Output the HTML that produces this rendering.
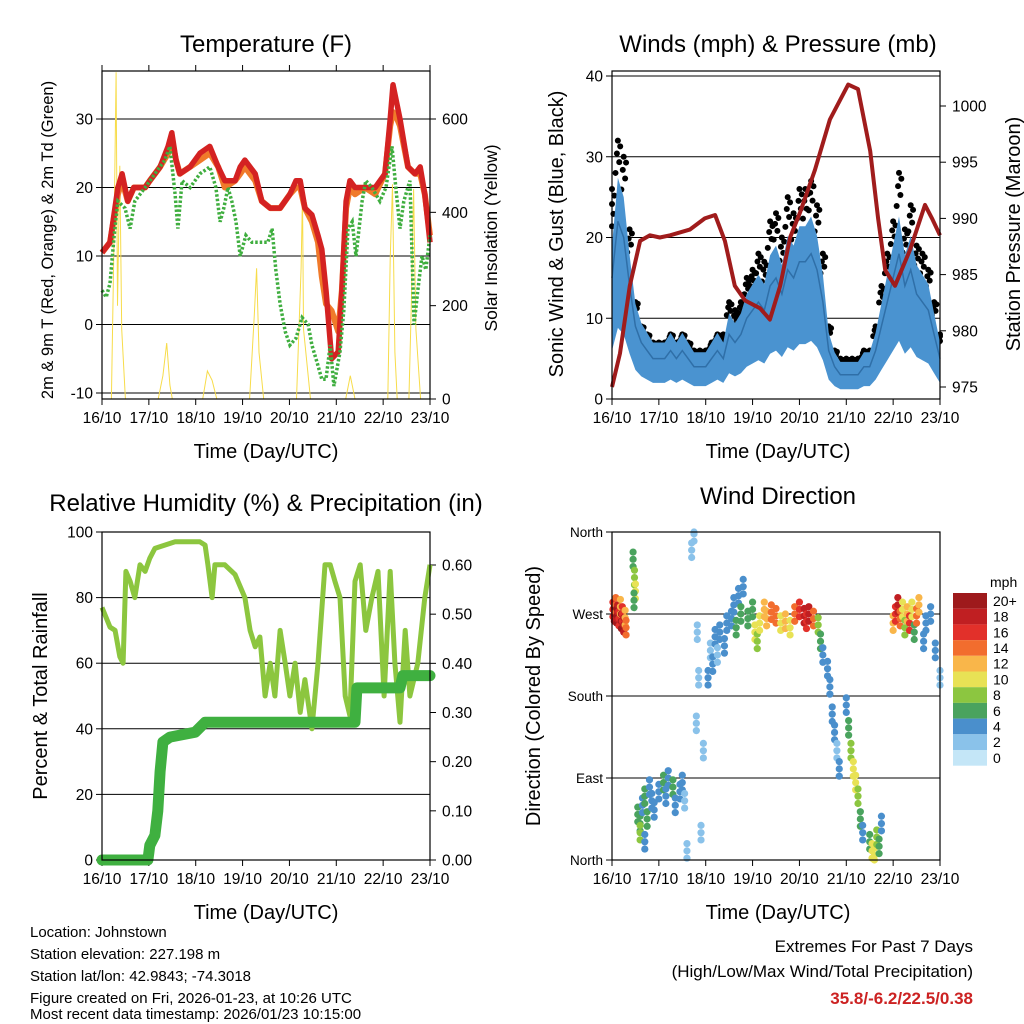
<!DOCTYPE html>
<html><head><meta charset="utf-8"><style>
html,body{margin:0;padding:0;background:#fff;width:1024px;height:1024px;overflow:hidden}
svg{display:block;font-family:"Liberation Sans",sans-serif}
</style></head><body>
<svg id="s" width="1024" height="1024" viewBox="0 0 1024 1024" xmlns="http://www.w3.org/2000/svg">
<g id="layer"></g>
<text x="266" y="52" font-size="24" text-anchor="middle">Temperature (F)</text>
<text x="778" y="52" font-size="24" text-anchor="middle">Winds (mph) &amp; Pressure (mb)</text>
<text x="266" y="511" font-size="24" text-anchor="middle">Relative Humidity (%) &amp; Precipitation (in)</text>
<text x="778" y="504" font-size="24" text-anchor="middle">Wind Direction</text>
<text x="266" y="458" font-size="20" text-anchor="middle">Time (Day/UTC)</text>
<text x="778" y="458" font-size="20" text-anchor="middle">Time (Day/UTC)</text>
<text x="266" y="919" font-size="20" text-anchor="middle">Time (Day/UTC)</text>
<text x="778" y="919" font-size="20" text-anchor="middle">Time (Day/UTC)</text>
<text transform="translate(53,240) rotate(-90)" font-size="16.5" text-anchor="middle">2m &amp; 9m T (Red, Orange) &amp; 2m Td (Green)</text>
<text transform="translate(497,238) rotate(-90)" font-size="17.5" text-anchor="middle">Solar Insolation (Yellow)</text>
<text transform="translate(563,234) rotate(-90)" font-size="20" text-anchor="middle">Sonic Wind &amp; Gust (Blue, Black)</text>
<text transform="translate(1020,234) rotate(-90)" font-size="20" text-anchor="middle">Station Pressure (Maroon)</text>
<text transform="translate(47,696) rotate(-90)" font-size="20" text-anchor="middle">Percent &amp; Total Rainfall</text>
<text transform="translate(540,696) rotate(-90)" font-size="20" text-anchor="middle">Direction (Colored By Speed)</text>
<g font-size="15">
<text x="30" y="937">Location: Johnstown</text>
<text x="30" y="959">Station elevation: 227.198 m</text>
<text x="30" y="981">Station lat/lon: 42.9843; -74.3018</text>
<text x="30" y="1003">Figure created on Fri, 2026-01-23, at 10:26 UTC</text>
<text x="30" y="1019">Most recent data timestamp: 2026/01/23 10:15:00</text>
</g>
<g text-anchor="end">
<text x="973" y="952" font-size="17">Extremes For Past 7 Days</text>
<text x="973" y="977" font-size="17">(High/Low/Max Wind/Total Precipitation)</text>
<text x="973" y="1004" font-size="17" font-weight="bold" fill="#cc2222">35.8/-6.2/22.5/0.38</text>
</g>
<text x="990" y="587" font-size="14">mph</text>
</svg>
<script>
// ---- Temperature data ----
const tTime=[16.00,16.17,16.34,16.43,16.55,16.68,16.92,17.02,17.24,17.41,17.49,17.58,17.66,17.88,18.09,18.30,18.48,18.62,18.84,18.95,19.05,19.27,19.41,19.59,19.80,20.01,20.14,20.23,20.33,20.48,20.61,20.69,20.78,20.90,21.04,21.12,21.21,21.29,21.40,21.61,21.83,22.04,22.15,22.21,22.30,22.36,22.53,22.68,22.79,22.89,23.00];
const tempRed=[10.5,12,20,22,18,20,20,21,23,26,28,24,22,23,25,26,23,21,21,23,24,22,18,17,17,19,21,21,17,16,13,11,5,-5,-4,5,18,21,20,20,20,22,30,35,32,30,23,22,23,19,12];
const tempOrange=[10.5,12,19,21,18,20,20,21,23,25,27,24,22,23,24,25,23,20,21,22,23,21,18,17,17,19,20,20,17,15,12,7,3,2,-1,5,17,20,19,20,19,22,29,31,30,29,23,22,22,19,13];
const tdTime=[16.00,16.09,16.17,16.26,16.34,16.49,16.60,16.70,16.92,17.13,17.34,17.45,17.56,17.62,17.71,17.88,18.09,18.30,18.43,18.52,18.60,18.69,18.77,18.86,18.95,19.07,19.20,19.41,19.54,19.63,19.71,19.80,19.91,20.01,20.14,20.27,20.40,20.48,20.61,20.69,20.78,20.87,20.95,21.08,21.16,21.25,21.34,21.42,21.55,21.63,21.76,21.93,22.06,22.19,22.27,22.36,22.44,22.57,22.66,22.74,22.83,22.91,23.00];
const tempDew=[5,4,6,13,18,17,14,18,20,22,24,26,19,14,21,20,22,23,20,15,17,20,18,15,10,13,12,12,12,14,8,3,-1,-3,-2,1,0,-3,-6,-8,-8,-3,-9,-4,2,14,15,10,18,21,20,18,20,26,20,14,18,21,0,5,10,8,13];
const solarTime=[16.0,16.2,16.25,16.3,16.33,16.38,16.42,16.5,17.2,17.3,17.38,17.45,17.5,18.15,18.25,18.35,18.45,19.15,19.25,19.3,19.35,19.45,20.15,20.25,20.28,20.3,20.45,21.2,21.3,21.4,22.1,22.15,22.2,22.25,22.3,22.55,22.6,22.65,22.7,22.8,23.0];
const solarVal=[0,0,300,700,200,500,150,0,0,50,120,30,0,0,60,40,0,0,180,280,100,0,0,280,440,150,0,0,50,0,0,300,460,100,0,0,200,450,150,0,0];
const tempTicks=[-10,0,10,20,30];
const solarTicks=[0,200,400,600];
const dayLabels=["16/10","17/10","18/10","19/10","20/10","21/10","22/10","23/10"];
// ---- Winds data (3-hourly) ----
const windTime=[16.000,16.125,16.25,16.375,16.5,16.625,16.75,16.875,17.0,17.125,17.25,17.375,17.5,17.625,17.75,17.875,18.0,18.125,18.25,18.375,18.5,18.625,18.75,18.875,19.0,19.125,19.25,19.375,19.5,19.625,19.75,19.875,20.0,20.125,20.25,20.375,20.5,20.625,20.75,20.875,21.0,21.125,21.25,21.375,21.5,21.625,21.75,21.875,22.0,22.125,22.25,22.375,22.5,22.625,22.75,22.875,23.0];
const windSpeed=[15,22,20,14,9,7,6,5,5,5,6,5,6,5,4,4,4,5,6,5,8,7,8,10,11,12,11,14,15,13,16,15,17,17,18,16,12,6,4,3,3,3,3,4,4,6,9,12,15,18,14,16,13,12,11,8,5];
const windGust=[26,32,30,21,12,9,8,7,7,7,8,7,8,7,6,6,6,7,8,8,12,11,12,15,16,18,17,22,23,20,25,23,26,26,27,24,18,9,6,5,5,5,5,6,6,9,14,18,22,28,21,24,19,18,16,12,8];
const presTime=[16.00,16.17,16.38,16.60,16.81,17.02,17.24,17.66,17.98,18.20,18.41,18.62,18.84,19.16,19.37,19.59,19.80,20.01,20.33,20.65,21.04,21.25,21.51,21.68,21.83,22.04,22.36,22.68,22.83,23.00];
const presVal=[975,978,984,988,988.5,988.3,988.5,989,990,990.3,988,984,982.7,982,981,984,988.3,990.5,994.3,998.8,1001.9,1001.5,996,990,985.4,984,987.2,991.2,990,988.5];
const windTicks=[0,10,20,30,40];
const presTicks=[975,980,985,990,995,1000];
// ---- RH / precip ----
const rhTime=[16.00,16.17,16.28,16.38,16.45,16.51,16.60,16.70,16.81,16.92,17.02,17.13,17.34,17.56,18.09,18.20,18.26,18.35,18.41,18.62,18.84,19.05,19.16,19.27,19.37,19.48,19.59,19.69,19.80,19.91,20.01,20.12,20.23,20.33,20.48,20.61,20.76,20.87,20.97,21.08,21.19,21.29,21.40,21.51,21.63,21.76,21.89,22.02,22.15,22.25,22.36,22.47,22.57,22.74,22.89,23.00];
const rhVal=[77,71,70,62,60,88,85,80,90,88,92,95,96,97,97,96,90,80,90,90,87,80,70,65,68,50,60,50,70,60,50,60,45,55,40,60,90,90,85,80,50,44,85,90,70,80,88,50,88,60,42,70,50,60,80,90];
const rainTime=[16.00,16.98,17.02,17.13,17.19,17.24,17.30,17.45,17.99,18.20,21.40,21.44,22.36,22.42,23.00];
const rainVal=[0,0,0.03,0.05,0.1,0.18,0.24,0.25,0.26,0.28,0.28,0.35,0.35,0.375,0.375];
const rhTicks=[0,20,40,60,80,100];
const rainTicks=[0,0.1,0.2,0.3,0.4,0.5,0.6];
// ---- Wind direction ----
const dirTime=[16.02,16.05,16.08,16.1,16.12,16.15,16.18,16.2,16.22,16.25,16.28,16.3,16.45,16.48,16.5,16.47,16.55,16.6,16.6,16.65,16.7,16.7,16.75,16.8,16.85,16.9,17.0,17.1,17.15,17.2,17.3,17.35,17.45,17.5,17.55,17.6,17.7,17.75,17.8,17.82,17.85,17.9,17.95,18.05,18.1,18.15,18.2,18.25,18.3,18.4,18.45,18.55,18.6,18.65,18.7,18.75,18.8,18.9,19.0,19.05,19.1,19.15,19.25,19.3,19.4,19.5,19.6,19.7,19.8,19.9,20.0,20.1,20.15,20.2,20.3,20.4,20.45,20.5,20.6,20.65,20.7,20.75,20.8,20.85,21.0,21.05,21.1,21.15,21.2,21.25,21.3,21.35,21.5,21.55,21.6,21.65,21.7,21.75,22.0,22.05,22.1,22.15,22.2,22.25,22.3,22.35,22.4,22.45,22.5,22.55,22.65,22.7,22.8,22.9,23.0];
const dirDeg=[275,270,280,268,272,265,278,262,270,258,266,255,330,310,295,285,50,40,30,60,20,70,45,80,65,55,75,85,70,90,80,60,75,85,65,10,340,358,150,250,200,30,120,200,230,215,245,225,250,235,260,265,280,255,290,270,300,265,275,250,240,260,275,265,272,268,260,262,255,270,275,268,262,270,265,258,240,225,210,190,160,140,120,100,170,145,120,100,85,70,45,30,20,10,5,25,15,40,260,270,280,265,275,255,270,260,275,250,268,280,240,260,270,230,200];
const dirSpeed=[16,18,14,20,17,16,12,19,15,18,12,14,5,7,9,6,6,5,7,4,3,5,6,4,3,4,4,5,3,4,5,3,4,3,2,2,1,2,2,1,2,1,2,3,2,3,3,2,3,3,4,4,3,5,4,5,3,5,6,9,7,10,12,11,14,13,10,12,9,14,15,18,16,17,14,8,5,4,3,3,4,3,2,3,4,5,8,9,10,8,6,4,6,9,10,8,5,4,12,16,18,14,10,8,12,16,9,6,14,12,4,3,4,3,2];
const dirLabels=["North","East","South","West","North"];
const speedBins=["0","2","4","6","8","10","12","14","16","18","20+"];
const binColors=["#c4e6f7","#8ac2ea","#4a8fcc","#4aa35e","#8cc640","#e8e255","#f9b64a","#f26d2e","#e2302a","#c01f22","#9e1a1c"];

const NS="http://www.w3.org/2000/svg";
const L=document.getElementById('layer');
function mk(tag,attrs,parent){const e=document.createElementNS(NS,tag);for(const k in attrs)e.setAttribute(k,attrs[k]);(parent||L).appendChild(e);return e;}
function lin(d0,d1,r0,r1){return v=>r0+(v-d0)*(r1-r0)/(d1-d0);}
function path(xs,ys,sx,sy){return xs.map((t,i)=>(i?'L':'M')+sx(t).toFixed(1)+','+sy(ys[i]).toFixed(1)).join('');}

function frame(x0,y0,x1,y1,name,showTop){
  const g=mk('g',{});
  
  
  const sx=lin(16,23,x0,x1);
  dayLabels.forEach((lab,i)=>{
    const x=sx(16+i);
    mk('line',{x1:x,y1:y1,x2:x,y2:y1+6,stroke:'#000','stroke-width':1},g);
    if(showTop) mk('line',{x1:x,y1:y0,x2:x,y2:y0-6,stroke:'#000','stroke-width':1},g);
    const t=mk('text',{x:x,y:y1+24,'font-size':15.5,'text-anchor':'middle'},g);t.textContent=lab;
    
    
  });
  return {g,sx};
}
function yAxis(g,vals,sy,x,side,fmt,grid,x0,x1){
  vals.forEach(v=>{
    const y=sy(v);
    if(grid) mk('line',{x1:x0,y1:y,x2:x1,y2:y,stroke:'#000','stroke-width':1},g);
    mk('line',{x1:x,y1:y,x2:x+(side<0?-6:6),y2:y,stroke:'#000','stroke-width':1},g);
    const t=mk('text',{x:x+(side<0?-9:12),y:y+5.5,'font-size':15.5,'text-anchor':side<0?'end':'start'},g);
    t.textContent=fmt(v);
    
    
  });
}
function border(g,x0,y0,x1,y1){mk('rect',{x:x0,y:y0,width:x1-x0,height:y1-y0,fill:'none',stroke:'#000','stroke-width':1.2},g);}

// ---- Panel 1 ----
(function(){
  const x0=102,y0=71,x1=430,y1=399;
  const {g,sx}=frame(x0,y0,x1,y1,'temperature-panel',true);
  const sy=lin(-10,30,393,119), ss=lin(0,600,399,119);
  yAxis(g,tempTicks,sy,x0,-1,v=>v,true,x0,x1);
  yAxis(g,solarTicks,ss,x1,1,v=>v,false);
  const s=mk('path',{d:path(solarTime,solarVal,sx,ss),fill:'none',stroke:'#f7dc4a','stroke-width':1},g);
  
  
  const o=mk('path',{d:path(tTime,tempOrange,sx,sy),fill:'none',stroke:'#f07a2a','stroke-width':6,'stroke-linejoin':'round'},g);
  
  
  const r=mk('path',{d:path(tTime,tempRed,sx,sy),fill:'none',stroke:'#d42222','stroke-width':5.5,'stroke-linejoin':'round'},g);
  
  
  const d=mk('path',{d:path(tdTime,tempDew,sx,sy),fill:'none',stroke:'#3fae3f','stroke-width':3.5,'stroke-dasharray':'2.5,2'},g);
  
  
  border(g,x0,y0,x1,y1);
})();

// ---- Panel 2 ----
(function(){
  const x0=612,y0=71,x1=940,y1=399;
  const {g,sx}=frame(x0,y0,x1,y1,'winds-panel',false);
  const sy=lin(0,40,399,76), sp=lin(975,1000,387,106);
  yAxis(g,windTicks,sy,x0,-1,v=>v,true,x0,x1);
  yAxis(g,presTicks,sp,x1,1,v=>v,false);
  // black gust dots: scattered between wind and gust for each record
  const fr=[0.55,0.7,0.82,0.92,1.0];
  const offs=[-0.05,0.03,-0.02,0.05,0.0];
  windTime.forEach((t,i)=>{
    const lo=windSpeed[i]*1.05, hi=windGust[i];
    fr.forEach((f,j)=>{
      const c=mk('circle',{cx:sx(Math.min(23,Math.max(16,t+offs[j]))),cy:sy(lo+(hi-lo)*f),r:3,fill:'#000'},g);
      
      
    });
  });
  // blue band polygon
  const up=windTime.map((t,i)=>sx(t).toFixed(1)+','+sy(windSpeed[i]*1.2+1).toFixed(1));
  const dn=windTime.map((t,i)=>sx(t).toFixed(1)+','+sy(Math.max(windSpeed[i]*0.4,0.3)).toFixed(1)).reverse();
  const band=mk('polygon',{points:up.concat(dn).join(' '),fill:'#4a93d0'},g);
  
  
  const w=mk('path',{d:path(windTime,windSpeed,sx,sy),fill:'none',stroke:'#2f6fa8','stroke-width':1.5},g);
  
  
  const p=mk('path',{d:path(presTime,presVal,sx,sp),fill:'none',stroke:'#a01c1c','stroke-width':4,'stroke-linejoin':'round'},g);
  
  
  border(g,x0,y0,x1,y1);
})();

// ---- Panel 3 ----
(function(){
  const x0=102,y0=532,x1=430,y1=860;
  const {g,sx}=frame(x0,y0,x1,y1,'humidity-panel',false);
  const sy=lin(0,100,860,532), sr=lin(0,0.6,860,565);
  yAxis(g,rhTicks,sy,x0,-1,v=>v,true,x0,x1);
  yAxis(g,rainTicks,sr,x1,1,v=>v.toFixed(2),false);
  const r=mk('path',{d:path(rhTime,rhVal,sx,sy),fill:'none',stroke:'#8cc63f','stroke-width':5,'stroke-linejoin':'round'},g);
  
  
  const p=mk('path',{d:path(rainTime,rainVal,sx,sr),fill:'none',stroke:'#3fb040','stroke-width':11,'stroke-linejoin':'round','stroke-linecap':'round'},g);
  
  
  border(g,x0,y0,x1,y1);
})();

// ---- Panel 4 ----
(function(){
  const x0=612,y0=532,x1=940,y1=860;
  const {g,sx}=frame(x0,y0,x1,y1,'wind-direction-panel',false);
  const sy=lin(0,360,860,532);
  dirLabels.forEach((lab,i)=>{
    const y=sy(i*90);
    if(i>0&&i<4) mk('line',{x1:x0,y1:y,x2:x1,y2:y,stroke:'#000','stroke-width':1},g);
    mk('line',{x1:x0,y1:y,x2:x0-6,y2:y,stroke:'#000'},g);
    const t=mk('text',{x:x0-9,y:y+5,'font-size':13.5,'text-anchor':'end'},g);t.textContent=lab;
    
    
  });
  function bin(s){return s<1?0:s<3?1:s<5?2:s<7?3:s<9?4:s<11?5:s<13?6:s<15?7:s<17?8:s<19?9:10;}
  dirTime.forEach((t,i)=>{
    [-8,0,8].forEach(dd=>{
      const c=mk('circle',{cx:sx(t),cy:sy(Math.max(0,Math.min(360,dirDeg[i]+dd))),r:3.6,fill:binColors[bin(dirSpeed[i])]},g);
      
      
    });
  });
  border(g,x0,y0,x1,y1);
  const cb=mk('g',{});
  
  
  const bh=15.7, top=593;
  speedBins.forEach((lab,i)=>{
    const k=speedBins.length-1-i;
    const y=top+i*bh;
    mk('rect',{x:953,y:y,width:34,height:bh,fill:binColors[k]},cb);
    const t=mk('text',{x:993,y:y+bh/2+5,'font-size':14},cb);t.textContent=speedBins[k];
    
    
  });
})();
</script>
</body></html>
